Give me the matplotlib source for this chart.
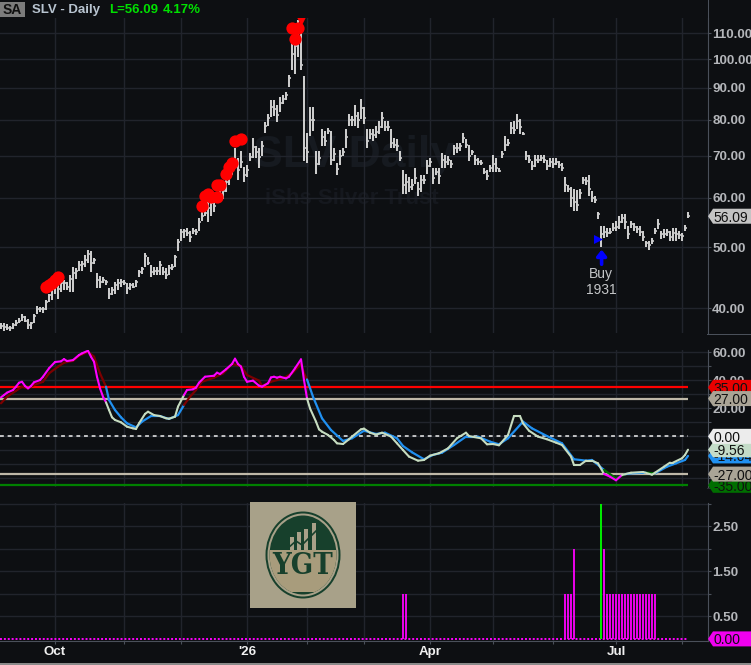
import numpy as np
import matplotlib
matplotlib.use("Agg")
import matplotlib.pyplot as plt
from matplotlib.patches import Polygon, Rectangle, Ellipse
from matplotlib.collections import LineCollection
from matplotlib.transforms import IdentityTransform

plt.rcParams['font.family'] = ['Liberation Sans', 'DejaVu Sans']

highs = [37.9,37.8,37.7,37.5,37.9,38.3,38.5,39.1,38.8,38.4,38.0,39.2,40.3,40.1,40.1,41.2,42.2,43.3,43.9,43.6,
44.4,44.3,44.1,45.2,46.5,46.3,47.5,47.5,48.7,49.6,49.3,48.1,45.5,45.0,44.8,44.4,43.0,43.3,44.1,44.6,
44.6,44.4,43.8,43.8,43.8,44.3,46.0,46.6,49.0,48.3,46.9,46.6,46.6,47.5,46.6,46.3,46.9,47.0,48.7,51.5,
53.6,53.6,53.8,53.1,53.8,53.5,55.8,56.9,57.6,59.1,59.8,59.1,60.5,61.7,62.5,64.4,66.1,67.7,72.1,69.5,
71.2,67.3,67.7,70.8,74.9,72.5,72.1,73.9,79.2,81.7,85.9,85.9,84.3,87.0,87.5,88.6,94.4,105.9,110.9,115.4,
116.8,93.8,76.3,83.8,83.8,71.2,71.2,77.2,76.8,77.7,76.8,72.1,68.1,71.6,72.1,77.2,81.7,81.2,84.3,82.3,
86.4,83.8,77.2,77.2,77.2,78.2,79.7,82.3,79.7,79.7,77.2,74.9,74.4,71.2,66.5,65.6,64.8,64.4,66.9,63.6,
65.2,65.2,69.0,69.5,66.9,66.9,66.9,70.8,70.3,69.9,69.0,73.0,73.4,73.4,76.3,74.4,73.0,71.6,70.3,69.6,
69.0,66.9,66.5,67.7,70.3,69.5,66.9,71.2,75.3,74.4,79.2,79.7,81.7,80.2,76.6,71.4,70.3,68.6,70.3,70.3,
70.3,70.3,69.0,69.5,69.5,69.5,68.6,68.1,64.8,62.8,62.5,62.1,61.7,62.1,64.8,64.8,65.2,61.5,60.5,56.9,
54.2,54.2,53.8,53.8,54.8,55.2,56.2,56.5,56.5,54.2,55.2,54.7,54.2,54.2,53.1,51.2,51.2,51.8,53.8,55.5,
53.1,53.5,53.5,53.1,53.8,53.8,53.1,52.8,54.3,57.0]
lows = [37.1,36.8,36.9,36.8,37.1,37.5,37.8,38.2,38.0,37.1,37.1,37.8,39.2,39.5,39.3,39.7,40.9,41.2,42.2,41.4,
42.5,42.8,42.7,42.5,42.5,44.6,45.8,45.8,46.6,47.2,45.6,47.1,43.0,43.0,43.8,43.6,41.4,41.9,42.2,42.8,
43.3,43.6,42.2,42.8,43.0,43.3,44.8,45.4,46.6,46.9,44.9,45.2,45.2,45.2,45.2,44.6,45.2,46.1,46.6,49.3,
51.2,51.8,52.2,51.0,52.5,52.3,53.1,55.2,56.2,55.0,56.2,56.9,59.1,59.1,59.8,61.3,62.8,65.2,66.9,64.0,
66.9,63.6,64.8,68.6,69.5,69.5,66.9,69.9,76.3,78.2,80.7,81.2,79.2,82.3,84.9,85.9,90.3,96.0,94.8,100.8,
96.0,68.6,68.1,75.3,76.8,65.6,67.7,72.5,72.5,75.8,67.7,68.6,65.2,67.7,69.9,72.1,78.2,78.2,78.2,77.7,
80.2,78.7,72.1,74.4,73.9,74.9,75.8,77.7,76.8,76.8,72.1,72.1,71.2,68.6,60.9,60.9,61.3,61.7,63.2,60.5,
61.3,63.2,65.6,67.3,63.2,65.2,63.2,66.9,66.9,67.7,66.9,70.3,70.8,71.2,73.4,72.1,68.6,70.3,67.7,67.7,
67.7,65.6,64.0,66.1,66.1,66.1,65.9,69.5,71.4,72.5,75.8,75.8,77.2,75.8,75.7,69.0,68.1,66.5,67.3,68.1,
68.6,68.1,66.5,67.3,66.9,67.7,66.9,66.2,61.3,61.3,58.0,57.2,57.2,59.8,63.2,62.8,60.5,59.1,58.9,55.5,
50.0,51.8,52.0,52.5,53.1,53.1,53.5,54.8,53.5,51.5,53.8,53.1,52.8,52.2,51.2,50.0,49.6,50.6,52.5,53.5,
51.6,51.8,52.2,51.2,51.2,51.2,51.5,51.2,53.1,55.8]
closes = [37.5,37.3,37.2,37.2,37.6,37.9,38.2,38.7,38.2,37.6,37.9,38.8,39.8,39.8,39.8,40.9,41.9,42.9,43.4,42.9,
43.9,43.9,43.3,44.6,45.5,45.8,46.8,47.0,47.8,48.9,47.2,47.8,44.4,44.1,44.4,44.0,42.2,42.8,43.6,43.9,
44.1,43.9,43.1,43.5,43.3,44.0,45.6,46.2,48.4,47.3,45.6,45.9,45.8,46.8,45.7,45.2,46.4,46.6,48.2,51.0,
52.9,53.1,52.8,51.9,53.1,52.9,54.9,56.2,56.8,57.8,58.9,58.3,60.0,60.8,61.5,63.5,65.2,66.8,68.8,66.4,
68.5,65.3,66.5,69.8,72.3,71.0,69.8,72.5,78.2,80.5,83.8,83.2,81.5,85.2,86.4,87.5,93.2,102,105,110,
98,72,71,80,80,68,69.5,75,74,76.8,69,70.5,66.8,70,71,75,80,79.8,81,80,
83.5,80.5,74,76,75.5,76.5,78,80.5,78,78,73.5,73,72.5,69.5,63,63.5,62.5,63,64.5,62,
64,64,67.5,68.5,64.5,66,65,69,68.5,69,68,72,72,72.5,74.8,73,70,71,69,68.5,
68.2,66,65,67,68,67,66.3,70.5,73,73.5,77.5,77,79.5,78,76,70,69,67.5,69,69,
69.5,69,67.5,68.5,68,68.5,67.8,67,63,62,60,59,58.5,61,64,63.8,62,60,59.5,56.5,
52.5,53,52.8,53,53.8,54,55,55.8,55,52.5,54.5,54,53.5,53,52,50.8,50.4,51.2,53.2,54.5,
52.5,52.5,53,52,52.7,52.5,52.3,52.2,53.8,56.09]

dot_idx = [15,16,17,18,19,67,68,69,70,72,72,73,75,76,77,78,80,97,99,98]
dot_price = [43.2,43.6,43.8,44.3,44.8,58.2,60.5,60.9,60.2,60.2,62.8,63.0,65.4,67.3,68.2,74.1,74.5,112.3,112.3,107.5]

fast_idx = [0,1,2,4,5,6,7,8,9,10,11,13,14,16,18,20,21,22,24,26,27,29,30,31,32,33,34,35,36,37,38,40,42,44,45,46,48,49,51,53,55,56,58,59,61,62,64,65,66,68,71,72,73,75,77,78,79,80,81,82,84,86,87,89,90,91,92,93,95,96,98,100,101,102,103,105,106,107,109,111,112,114,116,117,120,121,123,125,127,130,132,134,136,139,141,143,146,149,152,155,156,160,162,164,166,169,171,173,174,176,179,182,185,187,190,191,193,195,197,199,201,203,205,207,210,214,217,218,221,223,224,227,228,229]
fast_val = [27.9,29.5,31.2,33.1,35.5,38.3,39,36,34.3,36,38.6,40.2,42.6,48.6,53.1,53.6,55.2,53.8,54.5,58.1,59.3,61.2,56.9,53.3,42.6,34.3,28.3,24.3,18.8,13.6,11.7,10,6.9,5.7,5.2,9.3,16,17.6,15.2,14.5,12.9,12.6,14,21.2,29.5,33.1,33.6,34.8,38.3,42.6,43.3,45.5,44.5,47.9,51.7,55.5,51.7,49.8,42.6,39,39.8,36.2,35.5,37.9,42.1,42.6,41.9,42.6,41.4,42.6,48.6,55,40.2,27.1,20,10.5,5,3.3,1,-2.6,-5,-5.5,-2.1,-0.2,5,5.5,2.6,1.2,2.6,-0.2,-5,-9.8,-14.5,-17.4,-16.9,-13.8,-12.1,-8.6,-1.4,2.6,0.2,-1.4,-5.7,-5.5,-6.4,1,14.5,14.5,9.3,4,-0.2,-2.1,-4.5,-6.2,-14.5,-20.5,-20.5,-17.4,-17.4,-19.3,-26.9,-28.8,-31.4,-27.6,-26,-25.5,-27.4,-26,-21.7,-18.8,-18.8,-15.7,-13.3,-9.56]
slow_idx = [0,2,5,7,9,11,14,16,19,21,24,26,29,31,33,35,36,38,40,42,45,47,50,53,56,59,61,63,65,67,71,74,77,80,82,86,87,90,94,97,100,101,102,104,107,110,114,117,121,125,128,132,134,137,141,144,147,151,155,159,163,166,169,174,177,182,187,191,195,197,201,205,208,210,215,218,222,225,228,229]
slow_val = [23.6,28.3,32.6,35.5,34.3,36.7,39,45,49.8,52.6,54,57.6,60.5,56.9,45,35.5,26,18.8,13.6,9.3,6.4,10.5,14.5,14.5,12.4,15.2,22.4,28.3,33.1,39,41.9,45,51.7,50.2,43.8,39.8,36,39,41.4,45,51.7,45,40.7,28.3,12.9,4.5,-3.3,-1.4,4,1.7,2.6,-1.4,-6.9,-11.4,-16.4,-13.3,-11.7,-6.2,-0.2,-0.2,-3.8,-5.7,-1.4,10.5,5.7,0.2,-5,-16.4,-17.4,-16.9,-24,-30,-27.1,-26.4,-26,-26.4,-21.7,-19.3,-16.9,-14]
osc_levels = [35, 27, 0, -27, -35]

hist_magenta_idx = [134,135,188,189,190,191,201] + list(range(202,219))
hist_magenta_val = [1,1,1,1,1,2,2] + [1]*17
hist_green_idx = [200]
hist_green_val = [3]

month_idx = [18,41,60,82,102,121,143,164,184,205,227]
month_lab = ['Oct','','',"'26",'','','Apr','','','Jul','']
price_ticks = [40,50,60,70,80,90,100,110]
osc_ticks = [-30,-20,-10,0,10,20,30,40,50,60]
vol_ticks = [0.5,1,1.5,2,2.5,3]

W, H = 751, 665
BG = '#0d0f12'; GRID = '#21242c'; AXC = '#4a505a'; LAB = '#b4b6ba'
fig = plt.figure(figsize=(W/100, H/100), dpi=100, facecolor=BG)

def mk(top, bottom):
    a = fig.add_axes([0, (H-bottom)/H, 708/W, (bottom-top)/H], facecolor=BG)
    a.set_xlim(-1/3, 708/3 - 1/3)
    for s in ['top','left','bottom']:
        a.spines[s].set_visible(False)
    a.spines['right'].set_color(AXC)
    a.yaxis.tick_right()
    a.tick_params(axis='y', length=2.5, color=AXC, labelcolor=LAB, labelsize=9.6, pad=0.5)
    a.tick_params(axis='x', length=0, labelbottom=False)
    a.set_xticks(month_idx)
    a.grid(True, color=GRID, lw=1)
    a.set_axisbelow(True)
    return a

ax1 = mk(18, 333); ax2 = mk(350, 486.7); ax3 = mk(503, 640.7)

# price panel
x = np.arange(len(highs))
ax1.set_yscale('log')
ax1.set_ylim(36.5, 116.3)
ax1.set_yticks(price_ticks)
ax1.set_yticklabels([f'{t:.2f}' for t in price_ticks], fontweight='bold')
ax1.minorticks_off()
ax1.text(354/708, (333-155)/315, 'SLV Daily', transform=ax1.transAxes, ha='center', va='center',
         fontsize=32, fontweight='bold', color='#161a20', zorder=0.5)
ax1.text(352/708, (333-199)/315, 'iShs Silver Trust', transform=ax1.transAxes, ha='center', va='center',
         fontsize=16, fontweight='bold', color='#15181e', zorder=0.5)
ax1.vlines(x, lows, highs, colors='#cccccc', lw=1.45, zorder=3)
ax1.hlines(closes, x, x+0.6, colors='#cccccc', lw=1.2, zorder=3)
ax1.scatter(dot_idx, dot_price, s=78, color='#ff0000', zorder=4, linewidths=0)
ax1.scatter([100], [115.7], s=95, marker='v', color='#ff0000', zorder=4, linewidths=0)
ax1.scatter([199], [51.6], s=42, marker='>', color='#0000ff', zorder=5, linewidths=0)
ax1.annotate('', xy=(200.2, 49.6), xytext=(200.2, 47.0),
             arrowprops=dict(arrowstyle='-|>,head_width=0.28,head_length=0.35', color='#0000ff', lw=2.6, shrinkA=0, shrinkB=0), zorder=5)
ax1.text(200, 45.3, 'Buy', color='#c4c6c8', fontsize=10, ha='center', va='center')
ax1.text(200, 42.7, '1931', color='#c4c6c8', fontsize=10, ha='center', va='center')

# oscillator panel
ax2.set_ylim(-36, 61.7)
ax2.set_yticks(osc_ticks)
ax2.set_yticklabels(['' if t not in (60,40,20) else f'{t:.2f}' for t in osc_ticks], fontweight='bold')
end = x[-1]
ax2.hlines(35, -1/3, end, color='#ff0000', lw=1.6, zorder=2)
ax2.hlines([27,-27], -1/3, end, color='#bfb8a8', lw=1.6, zorder=2)
ax2.hlines(0, -1/3, end, color='#f0f0f0', lw=1.1, linestyles=(0,(2.5,2.5)), zorder=2)
ax2.hlines(-35, -1/3, end, color='#008000', lw=1.6, zorder=2)

def state(i):
    v = np.interp(i, fast_idx, fast_val)
    return 1 if v > 26 else (-1 if v < -27 else 0)

def seg_line(a, idx, val, cols, lw, z):
    pts = np.column_stack([idx, val])
    segs = np.stack([pts[:-1], pts[1:]], axis=1)
    c = [cols[state((idx[k]+idx[k+1])/2)] for k in range(len(idx)-1)]
    a.add_collection(LineCollection(segs, colors=c, linewidths=lw, zorder=z, capstyle='round'))

seg_line(ax2, slow_idx, slow_val, {1:'#7c0000', 0:'#2090f0', -1:'#006e00'}, 1.6, 3)
seg_line(ax2, fast_idx, fast_val, {1:'#ff00ff', 0:'#c6dcc0', -1:'#ff00ff'}, 1.5, 4)

# signal panel
ax3.set_ylim(-0.04, 3.02)
ax3.set_yticks(vol_ticks)
ax3.set_yticklabels(['' if t not in (0.5,1.5,2.5) else f'{t:.2f}' for t in vol_ticks], fontweight='bold')
ax3.vlines(hist_magenta_idx, 0, hist_magenta_val, color='#ff00ff', lw=1.3, zorder=3)
ax3.vlines(hist_green_idx, 0, hist_green_val, color='#00f000', lw=1.4, zorder=3)
ax3.hlines(0, -1/3, end, color='#ff00ff', lw=1.4, linestyles=(0,(1,1)), zorder=2)
ax3.spines['bottom'].set_visible(True); ax3.spines['bottom'].set_color(AXC)
ax3.tick_params(axis='x', length=2.5, color=AXC, labelbottom=True, labelcolor='#f0f0f0', labelsize=9.6, pad=1.5)
ax3.set_xticklabels(month_lab, fontweight='bold')

# value tags on the right axis
tag_z = [10]
def tag(a, value, text, bg, fg='#101010'):
    yp = a.transData.transform((0, value))[1]
    verts = [(708,yp),(713,yp+7.5),(751,yp+7.5),(751,yp-7.5),(713,yp-7.5)]
    tag_z[0] += 2
    fig.add_artist(Polygon(verts, closed=True, facecolor=bg, edgecolor='none',
                           transform=IdentityTransform(), zorder=tag_z[0]))
    fig.text(713/W, yp/H, text, color=fg, fontsize=10, ha='left', va='center_baseline', zorder=tag_z[0]+1)

fig.canvas.draw()
tag(ax1, closes[-1], f'{closes[-1]:.2f}', '#c4c4c4')
tag(ax2, slow_val[-1], '-14.04', '#2090f0')
tag(ax2, fast_val[-1], '-9.56', '#c4dcc8')
tag(ax2, osc_levels[0], '35.00', '#e80000')
tag(ax2, osc_levels[1], '27.00', '#aaa496')
tag(ax2, osc_levels[2], '0.00', '#ececec')
tag(ax2, osc_levels[4], '-35.00', '#006e00')
tag(ax2, osc_levels[3], '-27.00', '#aaa496')
tag(ax3, 0, '0.00', '#f000f0')

# header
pxT = IdentityTransform()
fig.add_artist(Rectangle((0, H-17), 25, 15, facecolor='#7c7c7c', edgecolor='none', transform=pxT))
fig.text(3/W, 1-10/H, 'SA', color='#101010', fontsize=10, fontweight='bold', va='center')
fig.text(32/W, 1-10/H, 'SLV - Daily', color='#b8c4d0', fontsize=9.5, fontweight='bold', va='center')
fig.text(109/W, 1-10/H, 'L=56.09', color='#00e000', fontsize=9.5, fontweight='bold', va='center')
fig.text(163/W, 1-10/H, '4.17%', color='#00e000', fontsize=9.5, fontweight='bold', va='center')

# separators
fig.add_artist(Rectangle((707, H-335), 44, 1, facecolor=AXC, edgecolor='none', transform=pxT))
fig.add_artist(Rectangle((707, H-489), 44, 1, facecolor='#2a2e35', edgecolor='none', transform=pxT))
fig.add_artist(Rectangle((708, H-18), 1, 18, facecolor=AXC, edgecolor='none', transform=pxT))
fig.add_artist(Rectangle((0, 0), W, 2, facecolor='#8a8a8a', edgecolor='none', transform=pxT))

# logo
def R(x0, y0, x1, y1, c, z=30):
    r = Rectangle((x0, H-y1), x1-x0, y1-y0, facecolor=c, edgecolor='none', transform=pxT, zorder=z)
    fig.add_artist(r); return r
R(250, 502, 356, 608, '#a8a189')
GREEN = '#17402c'
fig.add_artist(Ellipse((303, H-555), 75, 87, facecolor=GREEN, edgecolor='none', transform=pxT, zorder=31))
fig.add_artist(Ellipse((303, H-555), 71, 83, facecolor='#a8a189', edgecolor='none', transform=pxT, zorder=32))
inner = Ellipse((303, H-555), 67, 79, facecolor=GREEN, edgecolor='none', transform=pxT, zorder=33)
fig.add_artist(inner)
low = Rectangle((266, H-592), 74, 42, facecolor='#a89c7c', edgecolor='none', transform=pxT, zorder=34)
fig.add_artist(low)
low.set_clip_path(inner)
fig.text(303/W, 1-566/H, 'YGT', color=GREEN, fontsize=21, fontweight='bold', family='DejaVu Serif',
         stretch='condensed', ha='center', va='center', zorder=35)
for x0, top in [(290,537),(297,532),(304,529),(312,523)]:
    R(x0, top, x0+4, 550, '#a8a189', 35)
fig.add_artist(plt.Line2D([288,296,302,309,318], [H-548,H-541,H-545,H-538,H-529], color=GREEN, lw=1.2,
                          transform=pxT, zorder=36))

fig.savefig('out.png', dpi=100, facecolor=BG)
